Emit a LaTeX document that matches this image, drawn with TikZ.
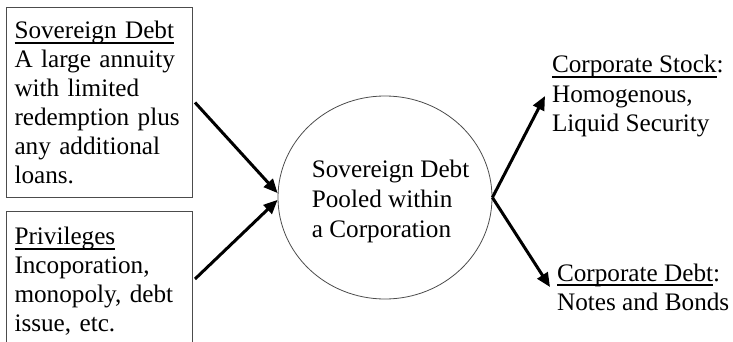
\documentclass[tikz,border=0pt]{standalone}
\usepackage{fontspec}
\setmainfont{Liberation Serif}
\usetikzlibrary{shapes.geometric}
\usetikzlibrary{arrows.meta}
\usetikzlibrary{positioning}
\newcommand{\undertext}[1]{\setbox0=\hbox{#1}\rlap{\rule[-2.6pt]{\wd0}{0.9pt}}\box0}
\tikzset{
    infobox/.style={
        draw=black!70,
        line width=0.5pt,
        font=\fontsize{12.6}{14.5}\selectfont,
        align=left,
        text width=85pt,
        inner xsep=4pt
    },
    poolnode/.style={
        ellipse,
        draw=black!70,
        line width=0.4pt,
        minimum width=107pt,
        minimum height=101.5pt,
        inner sep=0pt
    },
    pooltext/.style={
        font=\fontsize{12.6}{15}\selectfont,
        align=left,
        inner sep=0pt
    },
    outnode/.style={
        font=\fontsize{12.6}{14.6}\selectfont,
        align=left,
        anchor=west
    }
}

\begin{document}
\begin{tikzpicture}
[
    x=0.5pt,
    y=-0.5pt,
    flow/.style={
        line width=1.5pt,
        -{Triangle[length=7pt,width=6pt]}
    },
]
\useasboundingbox (0,0) rectangle (733,342);
\clip (0,0) rectangle (733,342);
\node[infobox, minimum height=95pt, anchor=north west] (sov) at (6,7) {\undertext{Sovereign Debt}\\A large annuity\\with limited\\redemption plus\\any additional\\loans.};
\node[infobox, below=6.5pt of sov, inner ysep=8pt, text depth=110pt] (priv) {\undertext{Privileges}\\Incoporation,\\monopoly, debt\\issue, etc.};
\node[poolnode] (pool) at (385,197.5) {};
\node[pooltext] (pooltxt) at ([shift={(2.8pt,-2pt)}]pool.center) {Sovereign Debt\\Pooled within\\a Corporation};
\node[outnode] (stock) at (545,96) {\undertext{Corporate Stock}:\\Homogenous,\\Liquid Security};
\node[outnode] (debt) at (550,287) {\undertext{Corporate Debt}:\\Notes and Bonds};
% arrows into and out of the pool
\draw[flow] ([xshift=1pt]sov.east) -- ([yshift=2.2pt]pool.west);
\draw[flow] ([shift={(1pt,-34pt)}]priv.north east) -- ([yshift=-1.2pt]pool.west);
\draw[flow] (pool.east) -- (stock.west);
\draw[flow] (pool.east) -- (debt.west);
\end{tikzpicture}
\end{document}
